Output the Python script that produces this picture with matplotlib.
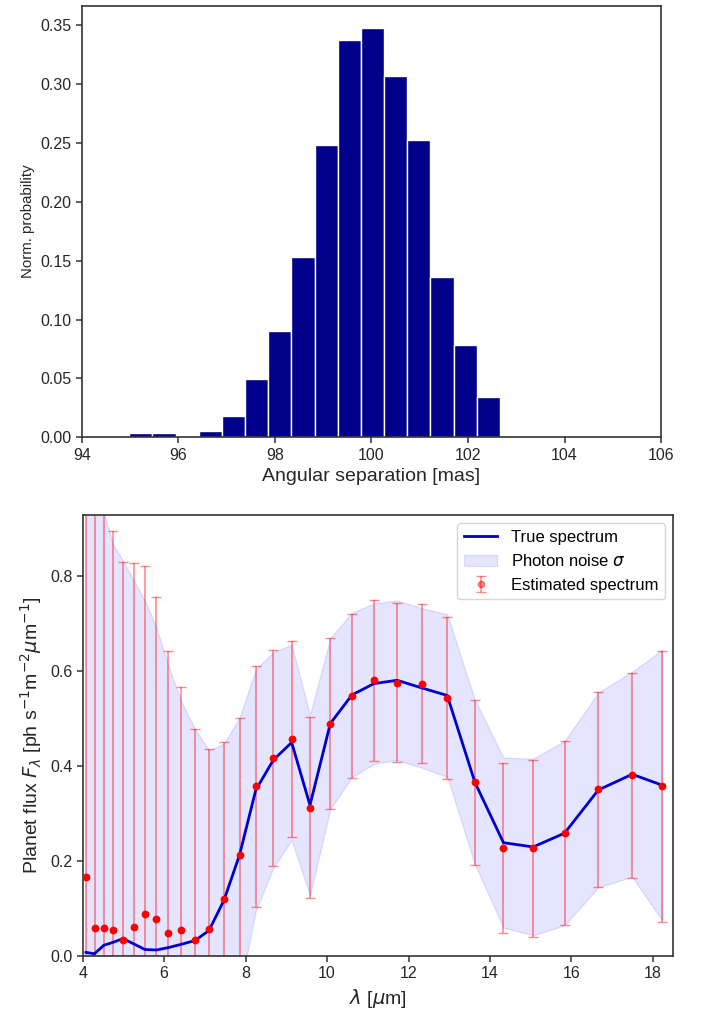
import matplotlib
matplotlib.use('Agg')
import matplotlib.pyplot as plt
import numpy as np

plt.rcParams['font.family'] = ['Liberation Sans', 'DejaVu Sans']
plt.rcParams['mathtext.fontset'] = 'dejavusans'

# --- histogram of angular separation (density normalised) ---
sep_bin_edges = np.linspace(94.98, 104.10, 20)
sep_density = [0.0034, 0.0034, 0.0, 0.0054, 0.0181, 0.0493, 0.0906, 0.153,
               0.2486, 0.338, 0.348, 0.3067, 0.2526, 0.1365, 0.0782, 0.0345,
               0.0014, 0.0014, 0.0014]

# --- spectrum ---
wavelength = [4.08, 4.29, 4.52, 4.74, 4.99, 5.25, 5.53, 5.81, 6.10, 6.42,
              6.76, 7.10, 7.47, 7.85, 8.25, 8.68, 9.13, 9.58, 10.08, 10.61,
              11.15, 11.72, 12.32, 12.95, 13.63, 14.33, 15.06, 15.83, 16.66,
              17.49, 18.23]
true_flux = [0.007, 0.004, 0.022, 0.028, 0.036, 0.025, 0.013, 0.012, 0.017,
             0.024, 0.032, 0.053, 0.117, 0.212, 0.349, 0.412, 0.449, 0.317,
             0.489, 0.549, 0.573, 0.580, 0.564, 0.548, 0.365, 0.238, 0.229,
             0.258, 0.349, 0.382, 0.359]
est_flux = [0.165, 0.059, 0.059, 0.055, 0.033, 0.061, 0.087, 0.077, 0.048,
            0.055, 0.033, 0.057, 0.119, 0.212, 0.357, 0.416, 0.457, 0.312,
            0.488, 0.547, 0.580, 0.575, 0.573, 0.543, 0.365, 0.227, 0.226,
            0.258, 0.350, 0.380, 0.357]
sigma = [1.06, 0.98, 0.91, 0.839, 0.796, 0.766, 0.734, 0.679, 0.594, 0.511,
         0.445, 0.379, 0.330, 0.289, 0.254, 0.227, 0.206, 0.19, 0.18, 0.173,
         0.169, 0.168, 0.168, 0.171, 0.173, 0.179, 0.186, 0.194, 0.205,
         0.216, 0.285]

EDGE = '#333333'


def style_axes(ax):
    for sp in ax.spines.values():
        sp.set_color(EDGE)
        sp.set_linewidth(1.2)
    ax.tick_params(direction='out', length=4, width=1.1, color=EDGE,
                   labelsize=11.5, labelcolor='#262626')


fig = plt.figure(figsize=(7.02, 10.14), dpi=100)

# === top: histogram ===
ax1 = fig.add_axes([0.1168, 0.5687, 0.8248, 0.4256])
centers = 0.5 * (sep_bin_edges[:-1] + sep_bin_edges[1:])
ax1.hist(centers, bins=sep_bin_edges, weights=sep_density,
         color='#00008B', edgecolor='white', linewidth=1)
ax1.set_xlim(94, 106)
ax1.set_ylim(0, 0.3667)
ax1.set_xticks(np.arange(94, 107, 2))
ax1.set_yticks(np.arange(0, 0.36, 0.05))
ax1.set_yticklabels([f'{v:.2f}' for v in np.arange(0, 0.36, 0.05)])
ax1.set_xlabel('Angular separation [mas]', fontsize=14, color='#262626')
ax1.set_ylabel('Norm. probability', fontsize=10.8, color='#262626')
style_axes(ax1)

# === bottom: spectrum ===
ax2 = fig.add_axes([0.1178, 0.0575, 0.8413, 0.4346])
wl = np.array(wavelength)
tf = np.array(true_flux)
sg = np.array(sigma)
ax2.plot(wl, tf, color='#0000CD', lw=2, label='True spectrum', zorder=3)
ax2.fill_between(wl, tf - sg, tf + sg, color='blue', alpha=0.1,
                 label='Photon noise $\\sigma$', zorder=1)
ax2.errorbar(wl, est_flux, yerr=sg, fmt='o', color='red', alpha=0.45,
             markersize=4.5, capsize=3.5, elinewidth=1.2,
             label='Estimated spectrum', zorder=2)
ax2.plot(wl, est_flux, 'o', color='red', markersize=4.5, zorder=4)
ax2.set_xlim(4, 18.5)
ax2.set_ylim(0, 0.928)
ax2.set_xticks(np.arange(4, 19, 2))
ax2.set_yticks(np.arange(0, 0.81, 0.2))
ax2.set_yticklabels([f'{v:.1f}' for v in np.arange(0, 0.81, 0.2)])
ax2.set_xlabel('$\\lambda$ [$\\mu$m]', fontsize=14, color='#262626')
ax2.set_ylabel('Planet flux $F_\\lambda$ [ph s$^{-1}$m$^{-2}\\mu$m$^{-1}$]',
               fontsize=14, color='#262626')
style_axes(ax2)
leg = ax2.legend(loc='upper right', fontsize=12, frameon=True)
leg.get_frame().set_edgecolor('#cccccc')

fig.savefig('out.png', dpi=100)
